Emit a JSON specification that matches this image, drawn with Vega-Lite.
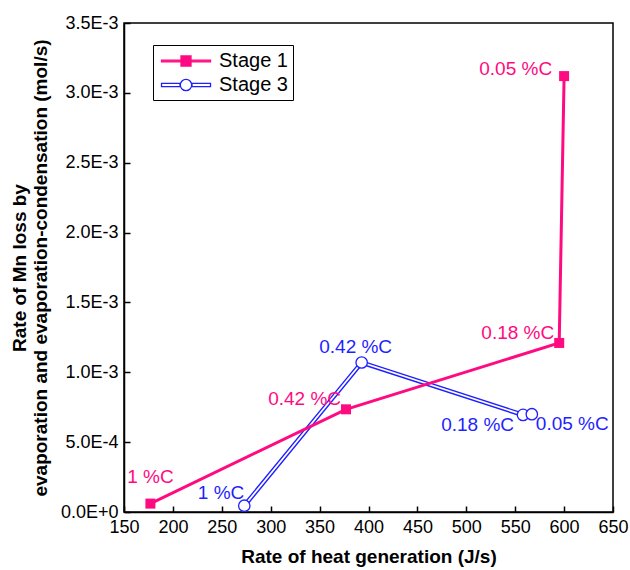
{
  "$schema": "https://vega.github.io/schema/vega-lite/v6.json",
  "autosize": {"type": "none"},
  "padding": {"left": 124, "top": 23, "right": 17, "bottom": 58},
  "width": 489,
  "height": 489,
  "background": "white",
  "config": {
    "font": "Liberation Sans",
    "view": {"stroke": "black", "strokeWidth": 1.5},
    "axis": {
      "domainColor": "black",
      "domainWidth": 1.5,
      "tickColor": "black",
      "tickWidth": 1.5,
      "tickSize": -6,
      "labelPadding": 12,
      "labelFlush": false,
      "labelFont": "Liberation Sans",
      "labelFontSize": 18,
      "labelColor": "black",
      "titleFont": "Liberation Sans",
      "titleFontSize": 19,
      "titleFontWeight": "bold",
      "titleColor": "black",
      "grid": false
    },
    "legend": {
      "labelFont": "Liberation Sans",
      "labelFontSize": 20,
      "labelColor": "black"
    }
  },
  "data": {
    "values": [
      {"stage": "Stage 1", "heat": 177, "rate": 0.00006, "label": "1 %C"},
      {"stage": "Stage 1", "heat": 377, "rate": 0.000735, "label": "0.42 %C"},
      {"stage": "Stage 1", "heat": 595, "rate": 0.00121, "label": "0.18 %C"},
      {"stage": "Stage 1", "heat": 600, "rate": 0.00312, "label": "0.05 %C"},
      {"stage": "Stage 3", "heat": 273, "rate": 0.000045, "label": "1 %C"},
      {"stage": "Stage 3", "heat": 393, "rate": 0.00107, "label": "0.42 %C"},
      {"stage": "Stage 3", "heat": 558, "rate": 0.000695, "label": "0.18 %C"},
      {"stage": "Stage 3", "heat": 567, "rate": 0.0007, "label": "0.05 %C"}
    ]
  },
  "encoding": {
    "x": {
      "field": "heat",
      "type": "quantitative",
      "scale": {"domain": [150, 650], "nice": false, "zero": false},
      "axis": {"title": "Rate of heat generation (J/s)", "values": [150, 200, 250, 300, 350, 400, 450, 500, 550, 600, 650], "titlePadding": 11}
    },
    "y": {
      "field": "rate",
      "type": "quantitative",
      "scale": {"domain": [0, 0.0035], "nice": false},
      "axis": {
        "title": ["Rate of Mn loss by", "evaporation and evaporation-condensation (mol/s)"],
        "values": [0, 0.0005, 0.001, 0.0015, 0.002, 0.0025, 0.003, 0.0035],
        "labelExpr": "datum.value == 0 ? '0.0E+0' : format(datum.value / pow(10, floor(log(datum.value) / LN10 + 1e-9)), '.1f') + 'E' + floor(log(datum.value) / LN10 + 1e-9)",
        "titlePadding": 10
      }
    }
  },
  "layer": [
    {
      "transform": [{"filter": "datum.stage == 'Stage 3'"}],
      "mark": {"type": "line", "color": "#1f1fff", "strokeWidth": 4.5},
      "encoding": {"order": {"field": "heat"}}
    },
    {
      "transform": [{"filter": "datum.stage == 'Stage 3'"}],
      "mark": {"type": "line", "color": "white", "strokeWidth": 1.8},
      "encoding": {"order": {"field": "heat"}}
    },
    {
      "transform": [{"filter": "datum.stage == 'Stage 1'"}],
      "mark": {"type": "line", "color": "#ff0a80", "strokeWidth": 3},
      "encoding": {"order": {"field": "heat"}}
    },
    {
      "transform": [{"filter": "datum.stage == 'Stage 1'"}],
      "mark": {"type": "point", "shape": "square", "filled": true, "color": "#ff0a80", "size": 100, "opacity": 1}
    },
    {
      "transform": [{"filter": "datum.stage == 'Stage 3'"}],
      "mark": {"type": "point", "shape": "circle", "fill": "white", "stroke": "#1f1fff", "strokeWidth": 1.3, "size": 130, "opacity": 1}
    },
    {
      "mark": {"type": "point", "opacity": 0},
      "encoding": {
        "fill": {
          "field": "stage", "type": "nominal",
          "scale": {"domain": ["Stage 1", "Stage 3"], "range": ["#ff0a80", "white"]},
          "legend": {
            "title": null, "orient": "none", "legendX": 29, "legendY": 22,
            "symbolOpacity": 1, "symbolSize": 400, "symbolStrokeWidth": 1.3, "symbolOffset": 17,
            "strokeColor": "black", "fillColor": "white",
            "padding": 5, "rowPadding": 3, "labelOffset": 22
          }
        },
        "stroke": {
          "field": "stage", "type": "nominal",
          "scale": {"domain": ["Stage 1", "Stage 3"], "range": ["#ff0a80", "#1f1fff"]},
          "legend": {
            "title": null, "orient": "none", "legendX": 29, "legendY": 22,
            "symbolOpacity": 1, "symbolSize": 400, "symbolStrokeWidth": 1.3, "symbolOffset": 17,
            "strokeColor": "black", "fillColor": "white",
            "padding": 5, "rowPadding": 3, "labelOffset": 22
          }
        },
        "shape": {
          "field": "stage", "type": "nominal",
          "scale": {
            "domain": ["Stage 1", "Stage 3"],
            "range": [
              "M-2.45,-0.085H2.45V0.085H-2.45Z M-0.5,-0.5H0.5V0.5H-0.5Z",
              "M-2.45,-0.16H-0.6V0.16H-2.45Z M0.6,-0.16H2.45V0.16H0.6Z M0.57,0A0.57,0.57 0 1,1 -0.57,0A0.57,0.57 0 1,1 0.57,0Z"
            ]
          },
          "legend": {
            "title": null, "orient": "none", "legendX": 29, "legendY": 22,
            "symbolOpacity": 1, "symbolSize": 400, "symbolStrokeWidth": 1.3, "symbolOffset": 17,
            "strokeColor": "black", "fillColor": "white",
            "padding": 5, "rowPadding": 3, "labelOffset": 22
          }
        }
      }
    },
    {
      "transform": [{"filter": "datum.stage == 'Stage 1' && datum.label == '1 %C'"}],
      "mark": {"type": "text", "color": "#ff0a80", "fontSize": 19, "align": "center", "baseline": "middle", "dx": 0, "dy": -27},
      "encoding": {"text": {"field": "label"}}
    },
    {
      "transform": [{"filter": "datum.stage == 'Stage 1' && (datum.label == '0.42 %C' || datum.label == '0.18 %C')"}],
      "mark": {"type": "text", "color": "#ff0a80", "fontSize": 19, "align": "right", "baseline": "middle", "dx": -5, "dy": -10},
      "encoding": {"text": {"field": "label"}}
    },
    {
      "transform": [{"filter": "datum.stage == 'Stage 1' && datum.label == '0.05 %C'"}],
      "mark": {"type": "text", "color": "#ff0a80", "fontSize": 19, "align": "right", "baseline": "middle", "dx": -12, "dy": -7},
      "encoding": {"text": {"field": "label"}}
    },
    {
      "transform": [{"filter": "datum.stage == 'Stage 3' && datum.label == '1 %C'"}],
      "mark": {"type": "text", "color": "#1f1fff", "fontSize": 19, "align": "right", "baseline": "middle", "dx": 0, "dy": -13},
      "encoding": {"text": {"field": "label"}}
    },
    {
      "transform": [{"filter": "datum.stage == 'Stage 3' && datum.label == '0.42 %C'"}],
      "mark": {"type": "text", "color": "#1f1fff", "fontSize": 19, "align": "center", "baseline": "middle", "dx": -6, "dy": -16},
      "encoding": {"text": {"field": "label"}}
    },
    {
      "transform": [{"filter": "datum.stage == 'Stage 3' && datum.label == '0.18 %C'"}],
      "mark": {"type": "text", "color": "#1f1fff", "fontSize": 19, "align": "right", "baseline": "middle", "dx": -9, "dy": 10},
      "encoding": {"text": {"field": "label"}}
    },
    {
      "transform": [{"filter": "datum.stage == 'Stage 3' && datum.label == '0.05 %C'"}],
      "mark": {"type": "text", "color": "#1f1fff", "fontSize": 19, "align": "left", "baseline": "middle", "dx": 4, "dy": 10},
      "encoding": {"text": {"field": "label"}}
    }
  ]
}
